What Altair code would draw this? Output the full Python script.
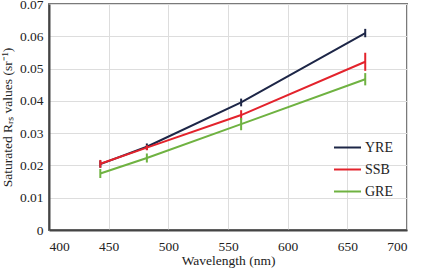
import altair as alt
import pandas as pd

# Band centre wavelengths (nm)
wavelengths = [443, 482, 561, 665]

# Saturated Rrs per region (sr^-1)
yre_vals = [0.0204, 0.0258, 0.0395, 0.0610]
ssb_vals = [0.0205, 0.0255, 0.0356, 0.0521]
gre_vals = [0.0175, 0.0223, 0.0328, 0.0467]

# Half-length of the error bars
yre_err = [0.0011, 0.0010, 0.0012, 0.0013]
ssb_err = [0.0012, 0.0008, 0.0015, 0.0028]
gre_err = [0.0014, 0.0014, 0.0019, 0.0019]

series = ["YRE", "SSB", "GRE"]
colors = ["#1d2647", "#e3232c", "#6fb241"]

rows = []
for name, vals, errs in zip(series, [yre_vals, ssb_vals, gre_vals], [yre_err, ssb_err, gre_err]):
    for w, v, e in zip(wavelengths, vals, errs):
        rows.append({"wavelength": w, "value": v, "lo": v - e, "hi": v + e, "region": name})
df = pd.DataFrame(rows)

FONT = "Liberation Serif"

color_scale = alt.Scale(domain=series, range=colors)
color = alt.Color(
    "region:N",
    scale=color_scale,
    sort=series,
    legend=alt.Legend(
        title=None,
        orient="none",
        legendX=284,
        legendY=129,
        padding=0,
        symbolType="stroke",
        symbolSize=729,
        symbolStrokeWidth=2,
        labelFont=FONT,
        labelFontSize=14,
        labelColor="#222222",
        rowPadding=-6,
        labelOffset=3,
    ),
)

x_scale = alt.Scale(domain=[400, 700], nice=False)
y_scale = alt.Scale(domain=[0, 0.07], nice=False)
x_axis = alt.Axis(
    values=[400, 450, 500, 550, 600, 650, 700],
    title="Wavelength (nm)",
    titlePadding=1,
    labelPadding=9,
    labelOverlap=False,
)
y_axis = alt.Axis(
    values=[0, 0.01, 0.02, 0.03, 0.04, 0.05, 0.06, 0.07],
    labelExpr="datum.value == 0 ? '0' : format(datum.value, '.2f')",
    title="Saturated Rᵣₛ values (sr⁻¹)",
    titlePadding=5,
    labelPadding=6,
    labelOverlap=False,
)

lines = alt.Chart(df).mark_line(strokeWidth=2).encode(
    x=alt.X("wavelength:Q", scale=x_scale, axis=x_axis),
    y=alt.Y("value:Q", scale=y_scale, axis=y_axis),
    color=color,
    order=alt.Order("wavelength:Q"),
)
bars = alt.Chart(df).mark_rule(strokeWidth=2).encode(
    x=alt.X("wavelength:Q", scale=x_scale, axis=x_axis),
    y=alt.Y("lo:Q", scale=y_scale, axis=y_axis),
    y2="hi:Q",
    color=color,
)

layers = []
for name in series:
    layers.append(lines.transform_filter(alt.datum.region == name))
    layers.append(bars.transform_filter(alt.datum.region == name))

chart = (
    alt.layer(*layers)
    .properties(
        width=358,
        height=226,
        padding={"left": 49, "top": 4, "right": 17, "bottom": 39},
        autosize=alt.AutoSizeParams(type="none"),
        background="white",
    )
    .configure_view(stroke="#7a7a7a", strokeWidth=2)
    .configure_axis(
        labelFont=FONT,
        titleFont=FONT,
        labelFontSize=13.5,
        titleFontSize=13.5,
        titleFontWeight="normal",
        labelColor="#222222",
        titleColor="#222222",
        grid=True,
        gridColor="#dddddd",
        gridWidth=1,
        domainColor="#444444",
        domainWidth=2,
        ticks=False,
        labelOverlap=False,
    )
)

chart.save("out.html", embed_options={"renderer": "svg", "actions": False})
